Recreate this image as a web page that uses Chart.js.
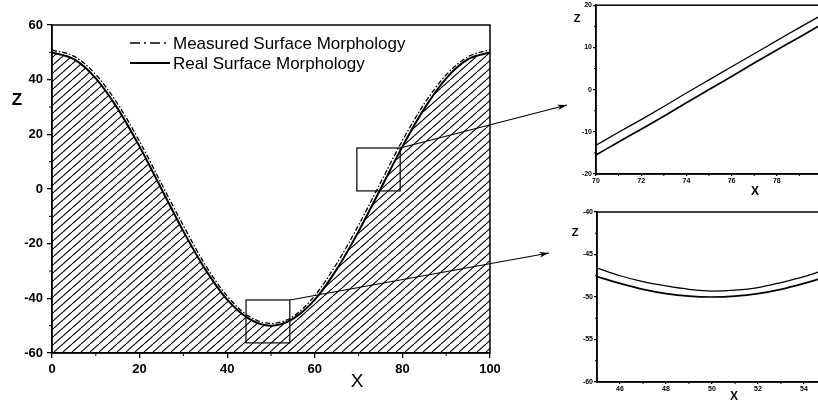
<!DOCTYPE html>
<html lang="en">
  <head>
    <meta charset="UTF-8" />
    <script src="https://cdn.jsdelivr.net/npm/chart.js@4.4.0/dist/chart.umd.min.js"></script>
    <title>Surface morphology</title>
    <style>
      body { margin: 0; background: #fff; width: 818px; height: 402px; overflow: hidden; position: relative; }
      canvas { position: absolute; }
    </style>
  </head>
  <body>
    <canvas id="main" width="818" height="402" style="left:0;top:0"></canvas>
    <canvas id="zoomA" width="285" height="200" style="left:550px;top:0"></canvas>
    <canvas id="zoomB" width="285" height="197" style="left:550px;top:205px"></canvas>

    <script>
      // main profile, read every 5 units of X
      var xMain = [0, 5, 10, 15, 20, 25, 30, 35, 40, 45, 50, 55, 60, 65, 70, 75, 80, 85, 90, 95, 100];
      var realMain = [50, 47.5, 40.5, 29.4, 15.5, 0, -15.5, -29.4, -40.5, -47.5, -50, -47.5, -40.5, -29.4, -15.5, 0, 15.5, 29.4, 40.5, 47.5, 50];
      var measMain = [50.8, 48.6, 41.9, 31.1, 17.4, 1.9, -13.4, -27.8, -39.2, -46.6, -49.2, -46.7, -39.0, -27.3, -13.2, 2.3, 17.7, 31.2, 41.8, 48.4, 50.9];

      // upper zoom, X 70..80
      var xUpper = [70, 71, 72, 73, 74, 75, 76, 77, 78, 79, 80];
      var realUpper = [-15.5, -12.4, -9.4, -6.3, -3.1, 0, 3.1, 6.3, 9.4, 12.4, 15.5];
      var measUpper = [-13.2, -10.1, -7.1, -4.0, -0.8, 2.3, 5.4, 8.5, 11.6, 14.7, 17.7];

      // lower zoom, X 45..55
      var xLower = [45, 46, 47, 48, 49, 50, 51, 52, 53, 54, 55];
      var realLower = [-47.6, -48.4, -49.1, -49.6, -49.9, -50, -49.9, -49.6, -49.1, -48.4, -47.6];
      var measLower = [-46.6, -47.5, -48.2, -48.7, -49.1, -49.3, -49.2, -48.9, -48.3, -47.6, -46.7];

      var mainXTicks = [0, 20, 40, 60, 80, 100];
      var mainYTicks = [-60, -40, -20, 0, 20, 40, 60];
      var mainXMinor = [10, 30, 50, 70, 90];
      var mainYMinor = [-50, -30, -10, 10, 30, 50];
      var upperXTicks = [70, 72, 74, 76, 78, 80];
      var upperYTicks = [-20, -10, 0, 10, 20];
      var upperXMinor = [71, 73, 75, 77, 79];
      var upperYMinor = [-15, -5, 5, 15];
      var lowerXTicks = [46, 48, 50, 52, 54];
      var lowerYTicks = [-60, -55, -50, -45, -40];
      var lowerXMinor = [47, 49, 51, 53];
      var lowerYMinor = [-57.5, -52.5, -47.5, -42.5];

      var labels = ['Measured Surface Morphology', 'Real Surface Morphology'];

      // zoom boxes on the main plot (data units) and where their arrows point (px)
      var boxes = [
        { x0: 69.6, x1: 79.5, y0: -0.7, y1: 15, tip: [567, 105] },
        { x0: 44.3, x1: 54.3, y0: -56.3, y1: -40.6, tip: [549, 253] }
      ];

      function pts(xs, ys) {
        return xs.map(function (x, i) { return { x: x, y: ys[i] }; });
      }

      function hatch(ctx) {
        var c = document.createElement('canvas');
        c.width = 9; c.height = 8;
        var g = c.getContext('2d');
        g.strokeStyle = '#000';
        g.lineWidth = 1.1;
        g.beginPath();
        for (var k = -1; k <= 1; k++) {
          g.moveTo(k * 9, 8);
          g.lineTo(k * 9 + 9, 0);
        }
        g.stroke();
        return ctx.createPattern(c, 'repeat');
      }

      function axis(min, max, ticks, fontSize, tickLen, pad, fit, isX) {
        return {
          type: 'linear', min: min, max: max,
          afterBuildTicks: function (s) { s.ticks = ticks.map(function (v) { return { value: v }; }); },
          afterFit: function (s) { if (isX) s.height = fit; else s.width = fit; },
          grid: { drawOnChartArea: false, tickLength: tickLen, color: '#000', lineWidth: 1.3 },
          border: { color: '#000', width: 1.5 },
          ticks: { color: '#000', autoSkip: false, maxRotation: 0, padding: pad,
                   font: { family: 'Liberation Sans', weight: 'bold', size: fontSize } }
        };
      }

      var decor = {
        id: 'decor',
        afterDatasetsDraw: function (chart, args, o) {
          var ctx = chart.ctx, a = chart.chartArea, sx = chart.scales.x, sy = chart.scales.y;
          ctx.save();
          ctx.strokeStyle = '#000';
          ctx.fillStyle = '#000';
          ctx.lineWidth = 1.5;
          ctx.strokeRect(a.left, a.top, a.right - a.left, a.bottom - a.top);

          ctx.lineWidth = 1;
          ctx.beginPath();
          o.minorX.forEach(function (v) {
            var p = sx.getPixelForValue(v);
            ctx.moveTo(p, a.bottom); ctx.lineTo(p, a.bottom + o.minorLen);
          });
          o.minorY.forEach(function (v) {
            var p = sy.getPixelForValue(v);
            ctx.moveTo(a.left, p); ctx.lineTo(a.left - o.minorLen, p);
          });
          ctx.stroke();

          ctx.textAlign = 'center';
          ctx.textBaseline = 'middle';
          o.titles.forEach(function (t) {
            ctx.font = t.font;
            ctx.fillText(t.text, t.x, t.y);
          });

          (o.boxes || []).forEach(function (b) {
            var l = sx.getPixelForValue(b.x0), r = sx.getPixelForValue(b.x1);
            var t = sy.getPixelForValue(b.y1), btm = sy.getPixelForValue(b.y0);
            ctx.lineWidth = 1.2;
            ctx.strokeRect(l, t, r - l, btm - t);
            var ang = Math.atan2(b.tip[1] - t, b.tip[0] - r);
            ctx.beginPath();
            ctx.moveTo(r, t);
            ctx.lineTo(b.tip[0], b.tip[1]);
            ctx.stroke();
            ctx.beginPath();
            ctx.moveTo(b.tip[0], b.tip[1]);
            ctx.lineTo(b.tip[0] - 10 * Math.cos(ang - 0.28), b.tip[1] - 10 * Math.sin(ang - 0.28));
            ctx.lineTo(b.tip[0] - 7 * Math.cos(ang), b.tip[1] - 7 * Math.sin(ang));
            ctx.lineTo(b.tip[0] - 10 * Math.cos(ang + 0.28), b.tip[1] - 10 * Math.sin(ang + 0.28));
            ctx.closePath();
            ctx.fill();
          });

          if (o.legend) {
            ctx.textAlign = 'left';
            ctx.font = '17px "Liberation Sans"';
            chart.data.datasets.forEach(function (ds, i) {
              var y = a.top + o.legend.y + i * 20;
              ctx.lineWidth = ds.borderWidth;
              ctx.setLineDash(i === 0 ? [10, 4, 2, 4] : []);
              ctx.beginPath();
              ctx.moveTo(a.left + o.legend.x, y);
              ctx.lineTo(a.left + o.legend.x + 40, y);
              ctx.stroke();
              ctx.setLineDash([]);
              ctx.fillText(ds.label, a.left + o.legend.x + 43, y + 1);
            });
          }
          ctx.restore();
        }
      };

      var mainCtx = document.getElementById('main').getContext('2d');
      new Chart(mainCtx, {
        type: 'line',
        data: {
          datasets: [
            { label: labels[0], data: pts(xMain, measMain), borderColor: '#000', borderWidth: 1.3,
              borderDash: [5, 2, 1.5, 2], pointRadius: 0, fill: false, cubicInterpolationMode: 'monotone' },
            { label: labels[1], data: pts(xMain, realMain), borderColor: '#000', borderWidth: 2,
              pointRadius: 0, fill: 'start', backgroundColor: hatch(mainCtx), cubicInterpolationMode: 'monotone' }
          ]
        },
        options: {
          responsive: false, animation: false,
          layout: { padding: { left: 0, top: 25, right: 328, bottom: 0 } },
          plugins: {
            legend: { display: false }, tooltip: { enabled: false },
            decor: {
              minorX: mainXMinor, minorY: mainYMinor, minorLen: 3,
              titles: [
                { text: 'Z', x: 17, y: 100, font: 'bold 17px "Liberation Sans"' },
                { text: 'X', x: 357, y: 382, font: '19px "Liberation Sans"' }
              ],
              boxes: boxes,
              legend: { x: 78, y: 18 }
            }
          },
          scales: {
            x: axis(0, 100, mainXTicks, 13, 5, 4, 49, true),
            y: axis(-60, 60, mainYTicks, 13, 5, 4, 52, false)
          }
        },
        plugins: [decor]
      });

      function inset(id, xs, real, meas, xr, yr, xt, yt, xm, ym, pad, fitX, fitY, titles) {
        new Chart(document.getElementById(id), {
          type: 'line',
          data: {
            datasets: [
              { label: labels[0], data: pts(xs, meas), borderColor: '#000', borderWidth: 1.3,
                pointRadius: 0, fill: false, cubicInterpolationMode: 'monotone' },
              { label: labels[1], data: pts(xs, real), borderColor: '#000', borderWidth: 1.7,
                pointRadius: 0, fill: false, cubicInterpolationMode: 'monotone' }
            ]
          },
          options: {
            responsive: false, animation: false,
            layout: { padding: pad },
            plugins: {
              legend: { display: false }, tooltip: { enabled: false },
              decor: { minorX: xm, minorY: ym, minorLen: 2, titles: titles }
            },
            scales: {
              x: axis(xr[0], xr[1], xt, 7, 2, 1, fitX, true),
              y: axis(yr[0], yr[1], yt, 7, 3, 1, fitY, false)
            }
          },
          plugins: [decor]
        });
      }

      inset('zoomA', xUpper, realUpper, measUpper, [70, 80], [-20, 20],
        upperXTicks, upperYTicks, upperXMinor, upperYMinor,
        { left: 0, top: 5, right: 13, bottom: 0 }, 26, 46,
        [{ text: 'Z', x: 27, y: 19, font: 'bold 11px "Liberation Sans"' },
         { text: 'X', x: 205, y: 192, font: 'bold 12px "Liberation Sans"' }]);

      inset('zoomB', xLower, realLower, measLower, [45, 55], [-60, -40],
        lowerXTicks, lowerYTicks, lowerXMinor, lowerYMinor,
        { left: 0, top: 7, right: 8, bottom: 0 }, 20, 47,
        [{ text: 'Z', x: 25, y: 28, font: 'bold 11px "Liberation Sans"' },
         { text: 'X', x: 184, y: 192, font: 'bold 12px "Liberation Sans"' }]);
    </script>
  </body>
</html>
